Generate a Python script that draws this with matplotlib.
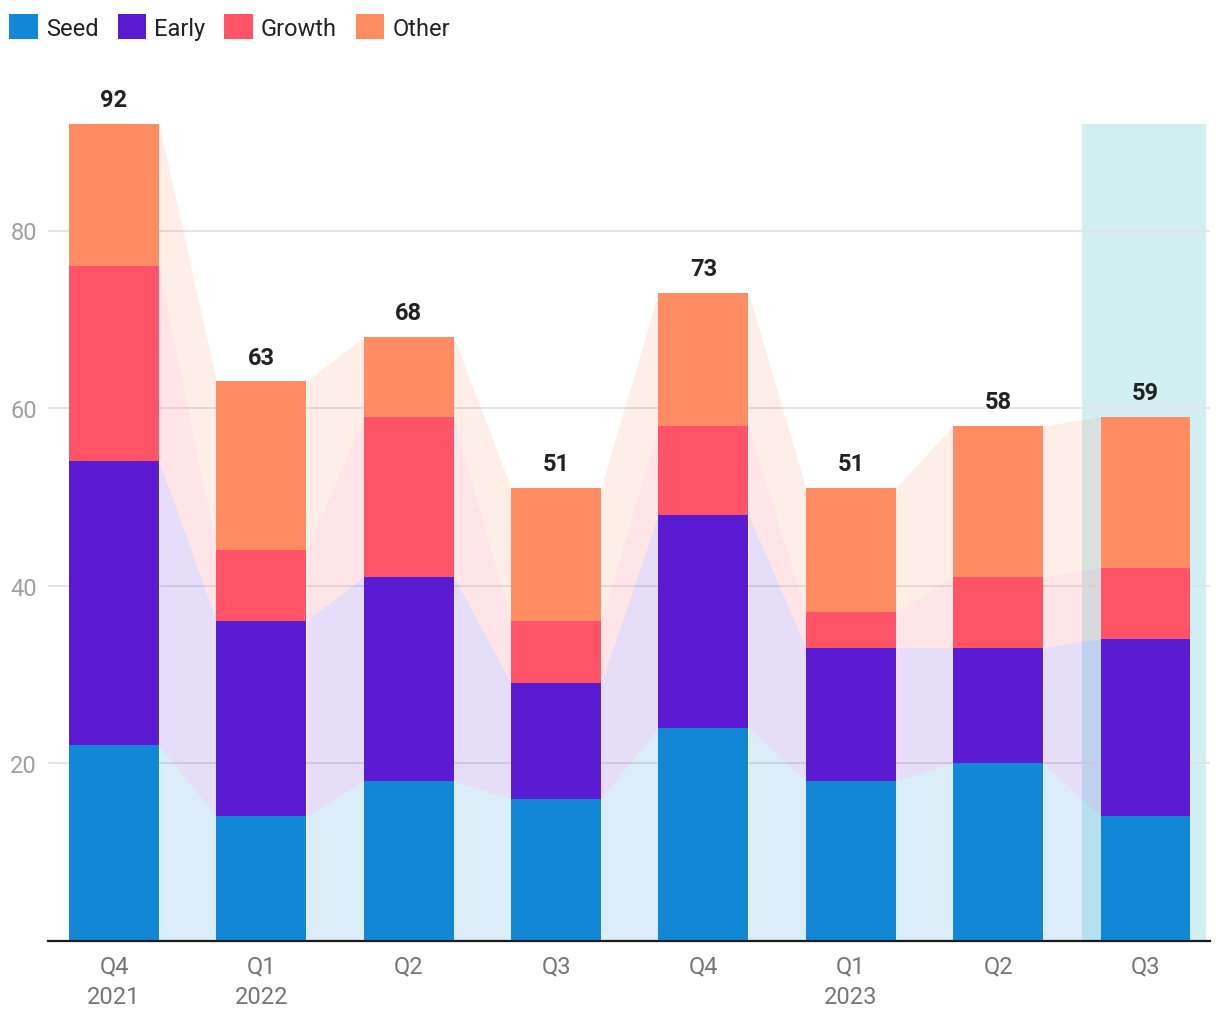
import matplotlib
matplotlib.use("Agg")
import matplotlib.pyplot as plt
from matplotlib.patches import Patch
import numpy as np

plt.rcParams['font.family'] = ['Roboto', 'DejaVu Sans']

quarters = ["Q4\n2021", "Q1\n2022", "Q2", "Q3", "Q4", "Q1\n2023", "Q2", "Q3"]
series_names = ["Seed", "Early", "Growth", "Other"]
seed = [22, 14, 18, 16, 24, 18, 20, 14]
early = [32, 22, 23, 13, 24, 15, 13, 20]
growth = [22, 8, 18, 7, 10, 4, 8, 8]
other = [16, 19, 9, 15, 15, 14, 17, 17]
colors = ["#1287D6", "#5A1BD3", "#FF5468", "#FF8C62"]
highlight_index = 7

series = [seed, early, growth, other]
n = len(quarters)
x = np.arange(n)
w = 0.61

fig = plt.figure(figsize=(12.2, 10.2), dpi=100)
ax = fig.add_axes([48/1220, 1-941.5/1020, (1210-48)/1220, 887.5/1020])
ax.set_xlim(-0.448, n - 1 + 0.438)
ax.set_ylim(0, 100)

totals = np.sum(series, axis=0)

# highlight band
ax.fill_between([highlight_index - 0.43, highlight_index + 0.41], 0, totals.max(),
                color="#D2F0F4", zorder=0.5, linewidth=0)

bottom = np.zeros(n)
for vals, c, name in zip(series, colors, series_names):
    vals = np.array(vals, dtype=float)
    top = bottom + vals
    ax.bar(x, vals, width=w, bottom=bottom, color=c, zorder=3, linewidth=0)
    for i in range(n - 1):
        xs = [x[i] + w/2, x[i+1] - w/2]
        ax.fill_between(xs, [bottom[i], bottom[i+1]], [top[i], top[i+1]],
                        color=c, alpha=0.15, linewidth=0, zorder=1)
    bottom = top

for i, t in enumerate(totals):
    ax.annotate(f"{t:g}", (x[i], t), xytext=(0, 17.5), textcoords="offset points",
                ha="center", va="center", fontsize=17, fontweight="bold", color="#222222")

ax.set_yticks([20, 40, 60, 80])
ax.yaxis.grid(True, color="#e3e3e3", linewidth=1.3, zorder=0)
ax.set_axisbelow(True)
ax.set_xticks(x)
ax.set_xticklabels(quarters, linespacing=1.4)
ax.tick_params(axis="y", length=0, pad=8, labelsize=17, labelcolor="#a0a0a0")
ax.tick_params(axis="x", length=0, pad=10, labelsize=17, labelcolor="#757575")
for s in ["left", "right", "top"]:
    ax.spines[s].set_visible(False)
ax.spines["bottom"].set_color("#1a1a1a")
ax.spines["bottom"].set_linewidth(1.6)
ax.spines["bottom"].set_zorder(5)

handles = [Patch(facecolor=c, edgecolor="none", label=nm) for c, nm in zip(colors, series_names)]
fig.legend(handles=handles, loc="upper left", bbox_to_anchor=(0/1220, 1-6/1020), ncol=4,
           frameon=False, fontsize=17, handlelength=1.2, handleheight=1.2,
           handletextpad=0.35, columnspacing=0.8, borderaxespad=0, labelcolor="#222222")

fig.savefig("out.png", dpi=100)
